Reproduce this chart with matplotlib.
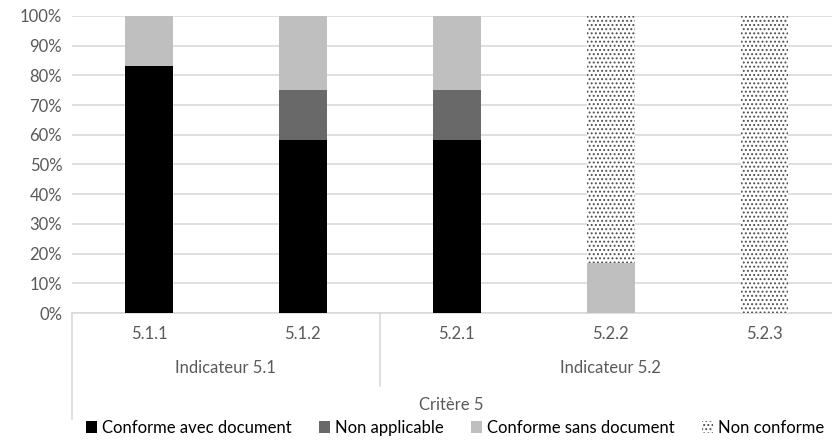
import numpy as np
import matplotlib.pyplot as plt
import matplotlib.transforms as mtransforms

plt.rcParams['font.family'] = ['Lato', 'DejaVu Sans']
plt.rcParams['hatch.linewidth'] = 0.9

# données
categories = ['5.1.1', '5.1.2', '5.2.1', '5.2.2', '5.2.3']
groupes = ['Indicateur 5.1', 'Indicateur 5.2']
groupe_taille = [2, 3]
critere = 'Critère 5'

conforme_doc = [83.3, 58.3, 58.3, 0, 0]
non_applicable = [0, 16.7, 16.7, 0, 0]
conforme_sans_doc = [16.7, 25.0, 25.0, 16.7, 0]
non_conforme = [0, 0, 0, 83.3, 100]

series = ['Conforme avec document', 'Non applicable',
          'Conforme sans document', 'Non conforme']

fig = plt.figure(figsize=(8.32, 4.41), dpi=100)
ax = fig.add_axes([0.0865, 0.29, 0.925, 0.674])

x = np.arange(len(categories))
w = 0.31
gris_txt = '#595959'

bas = np.zeros(len(categories))
b1 = ax.bar(x, conforme_doc, w, bottom=bas, color='black', label=series[0], zorder=3)
bas += conforme_doc
b2 = ax.bar(x, non_applicable, w, bottom=bas, color='#696969', label=series[1], zorder=3)
bas += non_applicable
b3 = ax.bar(x, conforme_sans_doc, w, bottom=bas, color='#bfbfbf', label=series[2], zorder=3)
bas += conforme_sans_doc
b4 = ax.bar(x, non_conforme, w, bottom=bas, facecolor='white', edgecolor='#505050',
            hatch='....', linewidth=0, label=series[3], zorder=3)

ax.set_xlim(-0.5, len(categories) - 0.5)
ax.set_ylim(0, 100)
ax.set_yticks(np.arange(0, 101, 10))
ax.set_yticklabels([f'{v}%' for v in range(0, 101, 10)])
ax.yaxis.grid(True, color='#d9d9d9', linewidth=1.2, zorder=0)
ax.set_axisbelow(True)

for s in ['top', 'right', 'left']:
    ax.spines[s].set_visible(False)
ax.spines['bottom'].set_color('#d9d9d9')
ax.spines['bottom'].set_linewidth(1.2)

ax.tick_params(axis='y', length=0, labelsize=12, colors=gris_txt, pad=7)
ax.tick_params(axis='x', length=0, labelsize=12, colors=gris_txt, pad=9)
ax.set_xticks(x)
ax.set_xticklabels(categories)

# axe des catégories à plusieurs niveaux
trans = mtransforms.blended_transform_factory(ax.transData, ax.transAxes)
ax.plot([-0.5, -0.5], [0, -0.355], transform=trans, color='#d9d9d9',
        linewidth=1.2, clip_on=False)
debut = 0
for nom, n in zip(groupes, groupe_taille):
    centre = debut + (n - 1) / 2
    ax.text(centre, -0.185, nom, transform=trans, ha='center', va='center',
            fontsize=12, color=gris_txt)
    if debut > 0:
        ax.plot([debut - 0.5, debut - 0.5], [0, -0.245], transform=trans,
                color='#d9d9d9', linewidth=1.2, clip_on=False)
    debut += n
fig.text(451 / 832, 1 - 405 / 441, critere, ha='center', va='center',
         fontsize=12, color=gris_txt)

leg = fig.legend(handles=[b1, b2, b3, b4], loc='center', bbox_to_anchor=(0.547, 0.03),
                 ncol=4, frameon=False, fontsize=12, handlelength=0.7,
                 handleheight=0.7, handletextpad=0.3, columnspacing=1.6)

fig.savefig('out.png', dpi=100)
